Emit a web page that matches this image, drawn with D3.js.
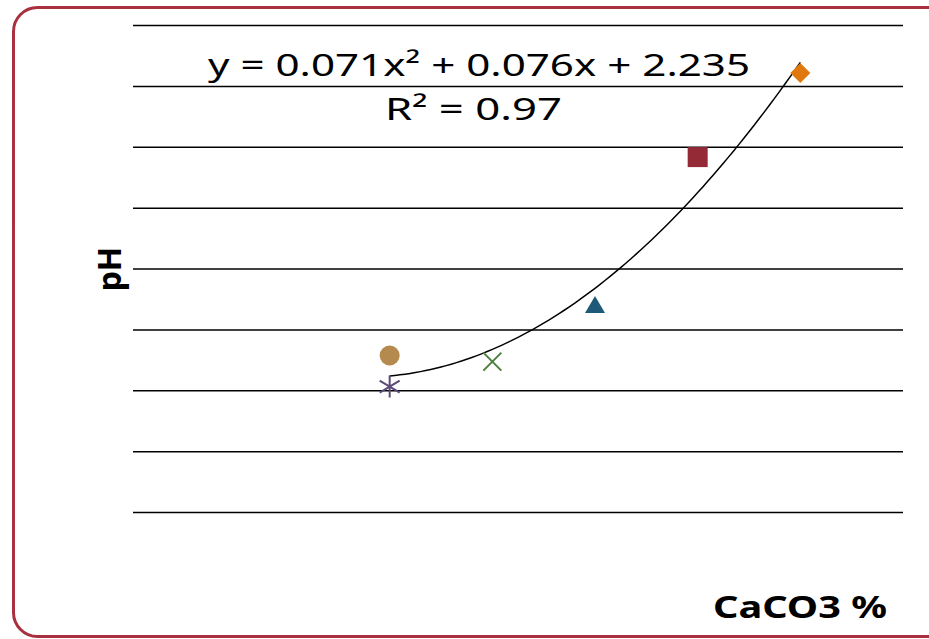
<!DOCTYPE html>
<html>
<head>
<meta charset="utf-8">
<script src="https://cdn.jsdelivr.net/npm/d3@7"></script>
<style>
  body { margin: 0; background: #fff; }
  svg { display: block; }
  text { font-family: "Noto Sans", "DejaVu Sans", sans-serif; }
</style>
</head>
<body>
<div id="chart"></div>
<script>
var w = 929;
var h = 639;
var margin = { top: 25, right: 26, bottom: 127, left: 133 };
var width = w - margin.left - margin.right;
var height = h - margin.top - margin.bottom;

// CaCO3 % values (x) and pH readings (y), one per sample
var samples = ["s1", "s2", "s3", "s4", "s5", "s6"];
var caco3 = [0, 0, 2, 4, 6, 8];
var ph = [2.57, 2.06, 2.47, 3.40, 5.83, 7.21];
var symbols = ["circle", "asterisk", "cross", "triangle", "square", "diamond"];
var colors = ["#b48a4e", "#5c4a78", "#4e803f", "#1e5a78", "#952a37", "#e0780d"];

// Polynomial trendline as printed on the chart
var coef = [0.071, 0.076, 2.235];
var trendLabel = "y = 0.071x² + 0.076x + 2.235";
var r2Label = "R² = 0.97";
var yTicks = [0, 1, 2, 3, 4, 5, 6, 7, 8];

var svg = d3.select("#chart")
    .append("svg")
    .attr("width", w)
    .attr("height", h);

// Rounded frame around the chart
svg.append("rect")
    .attr("x", 13.5)
    .attr("y", 7.5)
    .attr("width", 940)
    .attr("height", 629)
    .attr("rx", 24)
    .attr("fill", "none")
    .attr("stroke", "#a8303f")
    .attr("stroke-width", 3);

var g = svg.append("g")
    .attr("transform", "translate(" + margin.left + "," + margin.top + ")");

var xScale = d3.scaleLinear()
    .domain([-5, 10])
    .range([0, width]);

var yScale = d3.scaleLinear()
    .domain([0, 8])
    .range([height, 0]);

// Horizontal gridlines only, no tick labels
var grid = g.append("g")
    .call(d3.axisLeft(yScale)
        .tickValues(yTicks)
        .tickSize(-width)
        .tickFormat(""));
grid.select(".domain").remove();
grid.selectAll(".tick line")
    .attr("stroke", "#000")
    .attr("stroke-width", 1.5);

// Trendline from the fitted equation
var trendX = d3.range(0, 8.001, 0.1);
var line = d3.line()
    .x(function(d) { return xScale(d); })
    .y(function(d) { return yScale(coef[0] * d * d + coef[1] * d + coef[2]); });

g.append("path")
    .datum(trendX)
    .attr("d", line)
    .attr("fill", "none")
    .attr("stroke", "#000")
    .attr("stroke-width", 1.5);

// Markers
var data = samples.map(function(s, i) {
    return { name: s, x: caco3[i], y: ph[i], sym: symbols[i], color: colors[i] };
});

var pts = g.selectAll(".pt")
    .data(data)
    .enter()
    .append("g")
    .attr("class", "pt")
    .attr("transform", function(d) {
        return "translate(" + xScale(d.x) + "," + yScale(d.y) + ")";
    });

pts.each(function(d) {
    var el = d3.select(this);
    if (d.sym === "circle") {
        el.append("circle").attr("r", 10).attr("fill", d.color);
    } else if (d.sym === "square") {
        el.append("rect").attr("x", -10).attr("y", -10)
            .attr("width", 20).attr("height", 20).attr("fill", d.color);
    } else if (d.sym === "diamond") {
        el.append("path").attr("d", "M0,-10L10,0L0,10L-10,0Z").attr("fill", d.color);
    } else if (d.sym === "triangle") {
        el.append("path").attr("d", "M0,-9L10,8L-10,8Z").attr("fill", d.color);
    } else if (d.sym === "cross") {
        el.append("path").attr("d", "M-9,-9L9,9M-9,9L9,-9")
            .attr("stroke", d.color).attr("stroke-width", 2);
    } else if (d.sym === "asterisk") {
        el.append("path").attr("d", "M0,-11L0,11M-10,-6L10,6M-10,6L10,-6")
            .attr("stroke", d.color).attr("stroke-width", 2);
    }
});

// Equation labels (stretched to the width of the original wide typeface)
svg.append("text")
    .attr("x", 208)
    .attr("y", 76)
    .attr("textLength", 542)
    .attr("lengthAdjust", "spacingAndGlyphs")
    .style("font-size", "31px")
    .text(trendLabel);

svg.append("text")
    .attr("x", 385)
    .attr("y", 120)
    .attr("textLength", 177)
    .attr("lengthAdjust", "spacingAndGlyphs")
    .style("font-size", "31px")
    .text(r2Label);

// Axis titles
svg.append("text")
    .attr("transform", "translate(121,269) rotate(-90)")
    .attr("text-anchor", "middle")
    .style("font-size", "32px")
    .style("font-weight", "bold")
    .text("pH");

svg.append("text")
    .attr("x", 713)
    .attr("y", 618)
    .attr("textLength", 174)
    .attr("lengthAdjust", "spacingAndGlyphs")
    .style("font-size", "31px")
    .style("font-weight", "bold")
    .text("CaCO3 %");
</script>
</body>
</html>
